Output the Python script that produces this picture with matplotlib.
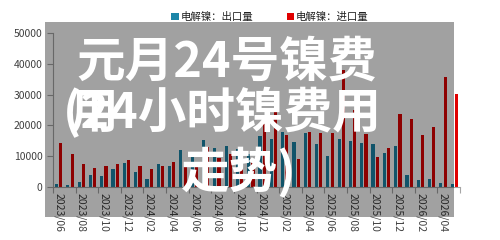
import numpy as np
import matplotlib.pyplot as plt
from matplotlib.patches import Rectangle

plt.rcParams['font.family'] = ['Noto Sans CJK SC', 'DejaVu Sans']

# === Data ===
months = ["2023/06", "2023/07", "2023/08", "2023/09", "2023/10", "2023/11",
          "2023/12", "2024/01", "2024/02", "2024/03", "2024/04", "2024/05",
          "2024/06", "2024/07", "2024/08", "2024/09", "2024/10", "2024/11",
          "2024/12", "2025/01", "2025/02", "2025/03", "2025/04", "2025/05",
          "2025/06", "2025/07", "2025/08", "2025/09", "2025/10", "2025/11",
          "2025/12", "2026/01", "2026/02", "2026/03", "2026/04", "2026/05"]
export_qty = [1000, 750, 1500, 3900, 3600, 5800, 7800, 5000, 2500, 7600, 6900, 12000,
              9800, 15200, 12800, 13300, 12500, 10600, 16500, 15600, 18000, 14700, 17400, 14000,
              10200, 15500, 15000, 14200, 13900, 11100, 13300, 3900, 2300, 2500, 1200, 870]
import_qty = [14300, 10600, 7400, 6300, 6700, 7400, 8800, 6900, 5900, 6700, 8100, 6500,
              6800, 13000, 9500, 10800, 6000, 8700, 20500, 25500, 17000, 9000, 18000, 17400,
              17500, 38000, 25000, 17100, 9800, 12800, 23600, 22200, 16900, 19400, 35600, 30200]

title_lines = ["元月24号镍费", "(24小时镍费用", "走势)"]

c_exp = "#1C86A8"
c_imp = "#E00000"
c_axis = "#A6A6A6"
c_text = "#404040"

# === Figure ===
fig = plt.figure(figsize=(5, 2.4), dpi=100)
ax = fig.add_axes([53 / 500, 1 - 187 / 240, 407 / 500, 154 / 240])

x = np.arange(len(months))
w = 0.28
ax.bar(x - 0.19, export_qty, width=w, color=c_exp, label="电解镍：出口量")
ax.bar(x + 0.19, import_qty, width=w, color=c_imp, label="电解镍：进口量")

ax.set_xlim(-0.5, len(months) - 0.5)
ax.set_ylim(0, 50000)
ax.set_yticks(range(0, 50001, 10000))
ax.tick_params(axis="y", labelsize=7.5, colors=c_axis, labelcolor=c_text, length=4, width=0.8)

# labels every second month, tick marks at category boundaries
ax.set_xticks(x[::2])
ax.set_xticklabels(months[::2], rotation=-90, fontsize=7.5, color=c_text)
ax.set_xticks(np.arange(-0.5, len(months), 2), minor=True)
ax.tick_params(axis="x", which="major", length=0, pad=4)
ax.tick_params(axis="x", which="minor", length=4, width=0.8, colors=c_axis)

for s in ["top", "right"]:
    ax.spines[s].set_visible(False)
ax.spines["left"].set_color(c_axis)
ax.spines["bottom"].set_color(c_axis)

leg = fig.legend(loc="center", bbox_to_anchor=(270 / 500, 1 - 17 / 240), ncol=2,
                 frameon=False, fontsize=7.5, handlelength=0.7, handleheight=0.7,
                 handletextpad=0.2, columnspacing=3.2, borderpad=0)
for t in leg.get_texts():
    t.set_color("#222222")

# --- grey overlay with the headline on top ---
fig.add_artist(Rectangle((45 / 500, 1 - 217 / 240), 409 / 500, 195 / 240,
                         transform=fig.transFigure, facecolor="black",
                         alpha=0.37, edgecolor="none", zorder=6))

tkw = dict(color="white", fontsize=35, fontweight="heavy", va="center", ha="left",
           transform=fig.transFigure, zorder=10,
           family=["Noto Sans CJK SC", "DejaVu Sans"])
fig.text(76 / 500, 1 - 62 / 240, title_lines[0], **tkw)
fig.text(70 / 500, 1 - 113 / 240, "用", **tkw)
fig.text(63 / 500, 1 - 113 / 240, title_lines[1], **tkw)
fig.text(181 / 500, 1 - 173 / 240, title_lines[2], **tkw)

fig.savefig("out.png", dpi=100)
